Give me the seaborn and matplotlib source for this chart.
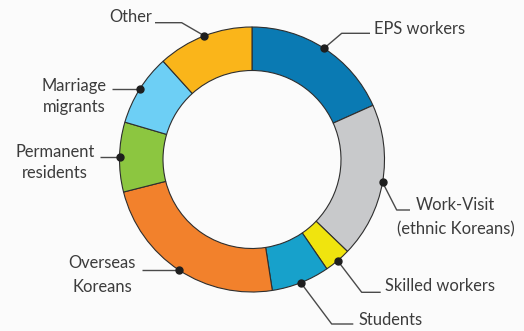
import numpy as np
import matplotlib
matplotlib.use("Agg")
import matplotlib.pyplot as plt
import seaborn as sns

# ---- data ----
categories = ["EPS workers", "Work-Visit\n(ethnic Koreans)", "Skilled workers", "Students",
              "Overseas\nKoreans", "Permanent\nresidents", "Marriage\nmigrants", "Other"]
shares = [18.3, 18.9, 3.25, 7.1, 23.5, 8.5, 8.75, 11.7]
colors = ["#0a7ab3", "#c8c9cb", "#f0e40e", "#17a1cb", "#f2812c", "#8cc640", "#6dcff5", "#fab51a"]

# ---- label layout (pixel coords, y down): elbow point, end of horizontal, text anchor, alignment ----
label_elbow = [(341.7, 33.3), (396.7, 210.0), (361.7, 292.3), (331.7, 324.0),
               None, None, None, (181.7, 22.7)]
label_end_x = [370.0, 410.0, 380.7, 353.3, 141.7, 100.0, 111.7, 155.0]
label_text_x = [374.0, 455.5, 385.0, 358.7, 102.0, 54.7, 74.0, 151.7]
label_text_y = [29.3, 205.0, 286.0, 320.0, 263.3, 151.7, 86.0, 16.7]
label_ha = ["left", "center", "left", "left", "center", "center", "center", "right"]
line_gap = [0, 24, 0, 0, 23.4, 21.0, 21.3, 0]

sns.set_theme(style="white")
plt.rcParams["font.family"] = ["Lato", "DejaVu Sans"]

W, H = 524, 331
bg = "#fbfbfb"
fig = plt.figure(figsize=(W / 100, H / 100), dpi=100, facecolor=bg)
ax = fig.add_axes([0, 0, 1, 1])
ax.set_facecolor(bg)
ax.set_xlim(0, W)
ax.set_ylim(0, H)
ax.set_aspect("equal")
ax.axis("off")

cx, cy_px = 252.0, 159.5
R, ring = 132.5, 43.5
center = (cx, H - cy_px)

wedges, _ = ax.pie(shares, colors=colors, startangle=90, counterclock=False,
                   center=center, radius=R,
                   wedgeprops=dict(width=ring, edgecolor="#2e2e2e", linewidth=0.8))
ax.set_xlim(0, W)
ax.set_ylim(0, H)

total = sum(shares)
cum = np.cumsum([0] + shares[:-1])
text_color = "#3c3c3c"
for i, lab in enumerate(categories):
    mid = (cum[i] + shares[i] / 2) / total * 360.0  # clockwise from top
    th = np.deg2rad(mid)
    dx, dy = R * np.sin(th), R * np.cos(th)
    dot = (cx + dx, center[1] + dy)
    pts = [dot]
    if label_elbow[i] is not None:
        ex, ey = label_elbow[i]
        pts.append((ex, H - ey))
        yline = H - ey
    else:
        yline = dot[1]
    pts.append((label_end_x[i], yline))
    xs, ys = zip(*pts)
    ax.plot(xs, ys, color="#4a4a4a", lw=1.0, solid_capstyle="butt", zorder=4)
    ax.plot([dot[0]], [dot[1]], "o", color="#1e1e1e", ms=5.0, zorder=5)
    for j, line in enumerate(lab.split("\n")):
        ax.text(label_text_x[i], H - (label_text_y[i] + j * line_gap[i]), line,
                ha=label_ha[i], va="center", fontsize=11.9, color=text_color)

fig.savefig("out.png", dpi=100, facecolor=bg)
